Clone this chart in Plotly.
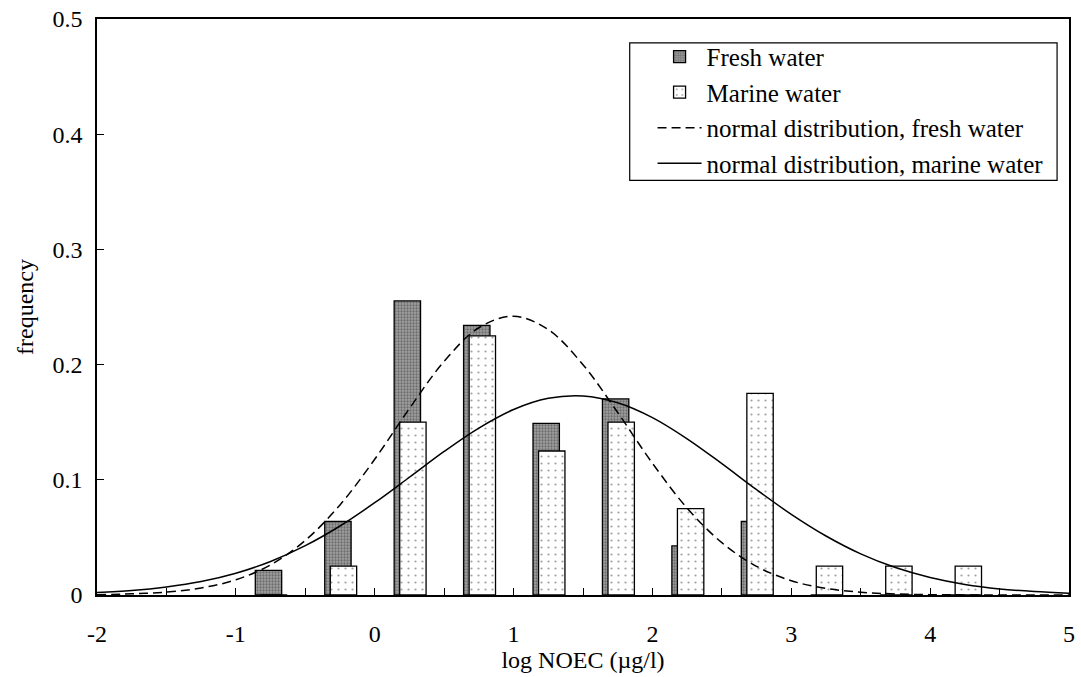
import plotly.graph_objects as go

# Histogram bins (bin centres, log NOEC) and frequencies
bin_centres = [-0.75, -0.25, 0.25, 0.75, 1.25, 1.75, 2.25, 2.75, 3.25, 3.75, 4.25]
fresh_freq = [0.0213, 0.0638, 0.2553, 0.2340, 0.1489, 0.1702, 0.0426, 0.0638, 0, 0, 0]
marine_freq = [0, 0.025, 0.15, 0.225, 0.125, 0.15, 0.075, 0.175, 0.025, 0.025, 0.025]

# Curves
curve_x = [-2, -1.75, -1.5, -1.25, -1, -0.75, -0.5, -0.25, 0, 0.25, 0.5, 0.75, 1,
           1.25, 1.5, 1.75, 2, 2.25, 2.5, 2.75, 3, 3.25, 3.5, 3.75, 4, 4.25, 4.5, 4.75, 5]
fresh_curve = [0.0003, 0.001, 0.0025, 0.0061, 0.0132, 0.0262, 0.0474, 0.0782, 0.1178,
               0.1619, 0.2028, 0.232, 0.242, 0.2303, 0.1999, 0.1584, 0.1144, 0.0754,
               0.0454, 0.0249, 0.0124, 0.0057, 0.0024, 0.0009, 0.0003, 0.0001, 0, 0, 0]
marine_curve = [0.0021, 0.0039, 0.007, 0.0117, 0.0189, 0.0291, 0.0428, 0.0599, 0.0801,
                0.1022, 0.1246, 0.1449, 0.161, 0.1707, 0.1728, 0.1669, 0.154, 0.1356,
                0.114, 0.0914, 0.07, 0.0512, 0.0357, 0.0238, 0.0152, 0.0092, 0.0053,
                0.003, 0.0016]

x_tick_vals = [-2, -1, 0, 1, 2, 3, 4, 5]
x_tick_text = ["-2", "-1", "0", "1", "2", "3", "4", "5"]

FONT = "Liberation Serif, Times New Roman, serif"
FS = 24
LFS = 25

fig = go.Figure()
fig.add_trace(go.Bar(
    x=bin_centres, y=fresh_freq, name="Fresh water", legendgroup="a",
    width=0.19, offset=-0.11,
    marker=dict(color="#8c8c8c", line=dict(color="black", width=1.3),
                pattern=dict(shape=".", fgcolor="#3a3a3a", bgcolor="#a0a0a0",
                             size=3, solidity=0.45)),
))
fig.add_trace(go.Bar(
    x=bin_centres, y=marine_freq, name="Marine water", legendgroup="b",
    width=0.19, offset=-0.07,
    marker=dict(color="white", line=dict(color="black", width=1.3),
                pattern=dict(shape=".", fgcolor="#444444", bgcolor="white",
                             size=7, solidity=0.08)),
))
fig.add_trace(go.Scatter(
    x=curve_x, y=fresh_curve, mode="lines", name="normal distribution, fresh water",
    legendgroup="c",
    line=dict(color="black", width=1.5, dash="9px,5px", shape="spline"),
))
fig.add_trace(go.Scatter(
    x=curve_x, y=marine_curve, mode="lines", name="normal distribution, marine water",
    legendgroup="d",
    line=dict(color="black", width=1.5, shape="spline"),
))

# legend frame (decoration)
fig.add_shape(type="rect", xref="paper", yref="paper",
              x0=(633 - 97) / 978, x1=(1063 - 97) / 978,
              y0=(595 - 179) / 578, y1=(595 - 41) / 578,
              line=dict(color="black", width=1.2), fillcolor="white", layer="below")

fig.update_layout(
    width=1081, height=677,
    margin=dict(l=97, r=6, t=17, b=82),
    paper_bgcolor="white", plot_bgcolor="white",
    barmode="overlay",
    font=dict(family=FONT, size=FS, color="black"),
    showlegend=True,
    legend=dict(x=(656 - 97) / 978, y=(595 - 32) / 578, xanchor="left", yanchor="top",
                bgcolor="rgba(0,0,0,0)", borderwidth=0,
                font=dict(family=FONT, size=LFS), traceorder="grouped",
                tracegroupgap=0, itemwidth=44),
    xaxis=dict(
        range=[-2, 5], tickvals=x_tick_vals, ticktext=x_tick_text,
        showgrid=False, zeroline=False,
        showline=True, linecolor="black", linewidth=1.5, mirror=True,
        ticks="inside", ticklen=7, tickcolor="black",
        minor=dict(dtick=0.5, tick0=-2, ticks="inside", ticklen=7, tickcolor="black"),
        ticklabelstandoff=16,
        title=dict(text="log NOEC (µg/l)", font=dict(family=FONT, size=FS), standoff=6),
    ),
    yaxis=dict(
        range=[0, 0.5], dtick=0.1, showgrid=False, zeroline=False,
        showline=True, linecolor="black", linewidth=1.5, mirror=True,
        ticks="inside", ticklen=7, tickcolor="black",
        ticklabelstandoff=8,
        title=dict(text="frequency", font=dict(family=FONT, size=FS), standoff=12),
    ),
)

fig.write_html("out.html")
